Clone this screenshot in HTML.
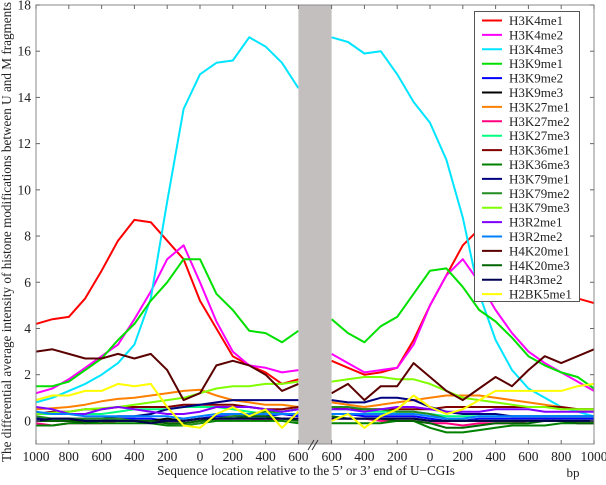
<!DOCTYPE html>
<html><head><meta charset="utf-8"><style>
body{margin:0;background:#fff}
svg text{font-family:"Liberation Serif",serif;fill:#222}
</style></head><body>
<svg id="chart" width="606" height="480" viewBox="0 0 606 480" xmlns="http://www.w3.org/2000/svg">
<g id="plot"></g>
</svg>
<script>
const posLeft=[-1000,-900,-800,-700,-600,-500,-400,-300,-200,-100,0,100,200,300,400,500,600];
const posRight=[-600,-500,-400,-300,-200,-100,0,100,200,300,400,500,600,700,800,900,1000];
const seriesNames=["H3K4me1","H3K4me2","H3K4me3","H3K9me1","H3K9me2","H3K9me3","H3K27me1","H3K27me2","H3K27me3","H3K36me1","H3K36me3","H3K79me1","H3K79me2","H3K79me3","H3R2me1","H3R2me2","H4K20me1","H4K20me3","H4R3me2","H2BK5me1"];
const seriesColors=["#ff0000","#ff00ff","#00e5ff","#00e000","#0000ff","#000000","#ff8000","#ff0080","#00ff80","#800000","#008000","#000080","#228b22","#80ff00","#8000ff","#0080ff","#5a0000","#006400","#000050","#ffff00"];
const leftVals=[
[4.2,4.4,4.5,5.3,6.5,7.8,8.7,8.6,7.8,7.0,5.2,4.0,2.8,2.4,2.1,1.6,1.8],
[1.2,1.4,1.8,2.3,2.8,3.3,4.4,5.6,7.0,7.6,6.0,4.3,3.0,2.4,2.3,2.1,2.2],
[0.8,1.0,1.3,1.6,2.0,2.5,3.3,5.3,9.5,13.5,15.0,15.5,15.6,16.6,16.2,15.5,14.4],
[1.5,1.5,1.7,2.2,2.7,3.5,4.2,5.2,6.0,7.0,7.0,5.5,4.8,3.9,3.8,3.4,3.9],
[0.1,0.1,0.1,0.0,0.0,0.1,0.1,0.1,0.0,0.0,0.1,0.2,0.2,0.2,0.2,0.3,0.2],
[0.0,0.0,0.0,0.0,0.0,0.0,0.0,0.0,0.1,0.0,0.1,0.1,0.1,0.1,0.1,0.1,0.1],
[0.5,0.55,0.6,0.7,0.85,0.95,1.0,1.1,1.2,1.3,1.35,1.1,0.9,0.8,0.7,0.7,0.6],
[-0.1,-0.2,-0.1,-0.1,-0.1,0.0,0.0,0.0,-0.1,-0.1,0.0,0.1,0.1,0.1,0.0,0.1,0.1],
[0.3,0.3,0.3,0.3,0.3,0.4,0.5,0.5,0.5,0.6,0.6,0.6,0.5,0.4,0.3,0.4,0.5],
[0.3,0.4,0.4,0.5,0.5,0.6,0.6,0.6,0.6,0.7,0.7,0.7,0.7,0.6,0.5,0.5,0.6],
[-0.2,-0.2,-0.1,-0.1,-0.1,-0.1,-0.1,-0.1,-0.2,-0.2,-0.1,0.0,0.0,0.0,0.0,0.0,-0.1],
[0.1,0.1,0.1,0.1,0.1,0.2,0.2,0.3,0.5,0.6,0.7,0.8,0.9,0.9,0.9,0.9,0.9],
[0.2,0.1,0.1,0.1,0.1,0.1,0.0,0.0,-0.1,-0.2,-0.1,0.1,0.2,0.3,0.4,0.4,0.5],
[0.3,0.35,0.4,0.5,0.55,0.6,0.7,0.8,0.9,1.0,1.2,1.4,1.5,1.5,1.6,1.6,1.7],
[0.6,0.5,0.3,0.3,0.5,0.6,0.5,0.4,0.3,0.3,0.4,0.6,0.6,0.6,0.5,0.4,0.5],
[0.4,0.3,0.3,0.2,0.2,0.2,0.2,0.2,0.2,0.1,0.2,0.3,0.3,0.3,0.3,0.3,0.3],
[3.0,3.1,2.9,2.7,2.7,2.9,2.7,2.9,2.2,0.9,1.2,2.4,2.6,2.4,2.0,1.3,1.6],
[0.0,0.0,0.0,-0.1,0.0,0.0,0.0,0.0,-0.1,-0.1,0.0,0.1,0.1,0.2,0.2,0.1,0.0],
[0.0,0.1,0.1,0.0,0.0,0.0,0.0,-0.1,0.0,0.0,0.1,0.1,0.1,0.1,0.1,0.1,0.1],
[0.9,1.1,1.1,1.3,1.3,1.6,1.5,1.6,0.6,-0.2,-0.3,0.3,0.6,0.2,0.5,-0.3,0.4]
];
const rightVals=[
[2.6,2.3,2.0,2.1,2.3,3.5,5.0,6.3,7.6,8.3,8.5,7.8,7.0,6.2,5.7,5.3,5.1],
[2.9,2.5,2.1,2.2,2.3,3.3,5.0,6.3,7.0,6.0,4.8,3.8,3.0,2.5,2.1,1.7,1.3],
[16.6,16.4,15.9,16.0,15.0,13.8,12.9,11.3,8.8,5.5,3.5,2.2,1.4,1.0,0.6,0.4,0.2],
[4.4,3.8,3.4,4.1,4.5,5.5,6.5,6.6,5.8,4.8,4.3,3.6,2.8,2.4,2.1,1.9,1.4],
[0.3,0.3,0.2,0.2,0.2,0.2,0.1,0.0,0.0,0.1,0.1,0.1,0.1,0.1,0.1,0.1,0.1],
[0.1,0.1,0.1,0.1,0.1,0.1,0.0,0.0,0.0,0.0,0.0,0.0,0.0,0.0,0.0,0.0,0.0],
[0.8,0.7,0.6,0.7,0.8,0.9,1.0,1.1,1.1,1.1,1.0,0.9,0.8,0.7,0.6,0.5,0.5],
[0.1,0.1,0.1,0.0,0.0,0.0,-0.1,-0.1,-0.2,-0.1,-0.1,-0.1,0.0,0.0,0.0,-0.1,-0.1],
[0.5,0.5,0.4,0.4,0.4,0.4,0.3,0.2,0.2,0.2,0.2,0.2,0.2,0.2,0.2,0.2,0.2],
[0.6,0.5,0.5,0.5,0.5,0.5,0.5,0.6,0.6,0.6,0.6,0.6,0.6,0.6,0.6,0.5,0.5],
[-0.1,-0.1,-0.1,-0.1,0.0,0.0,-0.3,-0.5,-0.5,-0.4,-0.3,-0.2,-0.2,-0.2,-0.1,-0.1,-0.1],
[0.9,0.8,0.8,1.0,1.0,0.9,0.6,0.4,0.3,0.3,0.3,0.2,0.2,0.2,0.2,0.2,0.2],
[0.6,0.6,0.5,0.5,0.4,0.4,0.3,0.1,0.0,0.0,0.0,0.0,0.0,0.0,0.0,0.0,0.0],
[1.7,1.8,1.9,1.9,1.8,1.8,1.6,1.3,1.0,0.9,0.8,0.7,0.6,0.6,0.5,0.5,0.5],
[0.5,0.5,0.4,0.5,0.6,0.6,0.5,0.4,0.4,0.4,0.5,0.5,0.5,0.4,0.4,0.4,0.4],
[0.3,0.3,0.3,0.3,0.3,0.3,0.2,0.1,0.1,0.2,0.2,0.2,0.2,0.2,0.2,0.2,0.2],
[1.2,1.6,0.9,1.5,1.5,2.5,1.9,1.3,0.9,1.4,1.9,1.5,2.2,2.8,2.5,2.8,3.1],
[0.2,0.1,0.1,0.1,0.0,0.0,-0.1,-0.3,-0.3,-0.2,-0.1,-0.1,-0.1,0.0,0.0,-0.1,-0.1],
[0.1,0.1,0.1,0.1,0.1,0.1,0.0,0.0,0.0,0.0,0.0,0.0,0.0,0.0,0.0,0.0,0.0],
[0.0,0.3,-0.3,0.2,0.5,1.1,0.6,0.3,0.5,0.9,1.3,1.3,1.3,1.3,1.3,1.5,1.6]
];
const yTicks=[0,2,4,6,8,10,12,14,16,18];
const leftTickLabels=[1000,800,600,400,200,0,200,400,600];
const leftTickPos=[-1000,-800,-600,-400,-200,0,200,400,600];
const rightTickLabels=[600,400,200,0,200,400,600,800,1000];
const rightTickPos=[-600,-400,-200,0,200,400,600,800,1000];

const NS="http://www.w3.org/2000/svg";
const g=document.getElementById('plot');
const PL=36,PR=594,PT=5,PB=444;
const yMin=-1,yMax=18;
const y=v=>PB-(v-yMin)*(PB-PT)/(yMax-yMin);
const xL=p=>200+p*0.164;
const xR=p=>430+p*0.164;
function el(tag,attrs,parent){const e=document.createElementNS(NS,tag);for(const k in attrs)e.setAttribute(k,attrs[k]);(parent||g).appendChild(e);return e;}

const bg=el('rect',{x:PL,y:PT,width:PR-PL,height:PB-PT,fill:'#fff'});



for(let s=0;s<seriesNames.length;s++){
  const pl=el('polyline',{points:posLeft.map((p,i)=>xL(p).toFixed(1)+','+y(leftVals[s][i]).toFixed(1)).join(' '),fill:'none',stroke:seriesColors[s],'stroke-width':2,'stroke-linejoin':'round'});
  
  
  const pr=el('polyline',{points:posRight.map((p,i)=>xR(p).toFixed(1)+','+y(rightVals[s][i]).toFixed(1)).join(' '),fill:'none',stroke:seriesColors[s],'stroke-width':2,'stroke-linejoin':'round'});
  
  
}
const gap=el('rect',{x:xL(600),y:PT,width:xR(-600)-xL(600),height:PB-PT,fill:'#c3bfbf'});


const fr=el('rect',{x:PL,y:PT,width:PR-PL,height:PB-PT,fill:'none',stroke:'#888','stroke-width':1});


yTicks.forEach(t=>{
  el('line',{x1:PL,x2:PL+4,y1:y(t),y2:y(t),stroke:'#666'});
  el('line',{x1:PR,x2:PR-4,y1:y(t),y2:y(t),stroke:'#666'});
  const tx=el('text',{x:31,y:y(t)+4.5,'text-anchor':'end','font-size':13.5});
  tx.textContent=t;
  
  
});
leftTickPos.forEach((p,i)=>{
  el('line',{x1:xL(p),x2:xL(p),y1:PB,y2:PB-4,stroke:'#666'});
  el('line',{x1:xL(p),x2:xL(p),y1:PT,y2:PT+4,stroke:'#666'});
  const tx=el('text',{x:xL(p),y:461,'text-anchor':'middle','font-size':13.5});
  tx.textContent=leftTickLabels[i];
  
  
});
rightTickPos.forEach((p,i)=>{
  el('line',{x1:xR(p),x2:xR(p),y1:PB,y2:PB-4,stroke:'#666'});
  el('line',{x1:xR(p),x2:xR(p),y1:PT,y2:PT+4,stroke:'#666'});
  const tx=el('text',{x:xR(p),y:461,'text-anchor':'middle','font-size':13.5});
  tx.textContent=rightTickLabels[i];
  
  
});
el('line',{x1:308,y1:450,x2:314,y2:440,stroke:'#333'});
el('line',{x1:312,y1:450,x2:318,y2:440,stroke:'#333'});
const xt=el('text',{x:306,y:475,'text-anchor':'middle','font-size':13.2});
xt.textContent="Sequence location relative to the 5’ or 3’ end of U\u2212CGIs";


const bp=el('text',{x:573,y:477,'text-anchor':'middle','font-size':13});
bp.textContent="bp";


const yt=el('text',{x:0,y:0,'text-anchor':'middle','font-size':13.2,transform:'translate(11,232) rotate(-90)'});
yt.textContent="The differential average intensity of histone modifications between U and M fragments";


const lg=el('g',{});


el('rect',{x:474.5,y:11.5,width:105,height:290,fill:'#fff',stroke:'#555'},lg);
seriesNames.forEach((n,i)=>{
  const cy=20.5+i*14.4;
  const e=el('g',{},lg);
  
  
  el('line',{x1:482,x2:502,y1:cy,y2:cy,stroke:seriesColors[i],'stroke-width':2},e);
  const t=el('text',{x:509,y:cy+4.5,'font-size':13},e);
  t.textContent=n;
});
</script>
</body></html>
